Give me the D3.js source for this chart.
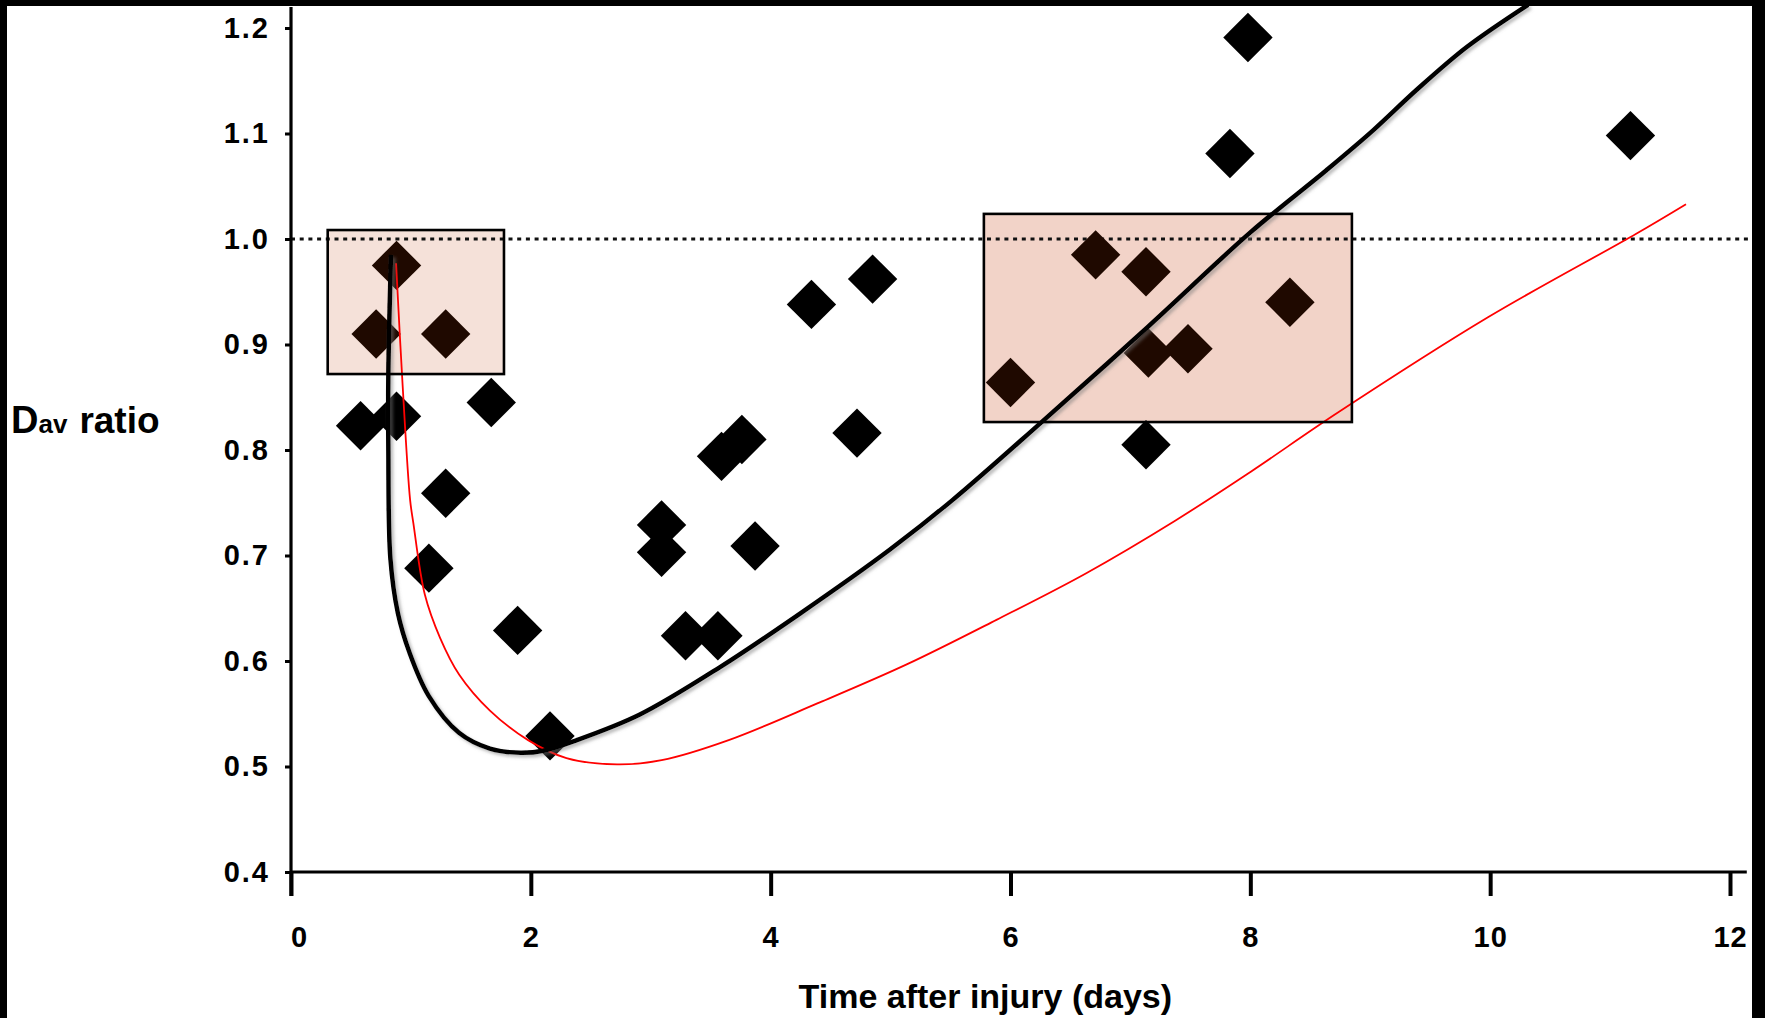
<!DOCTYPE html>
<html>
  <head>
    <script src="https://d3js.org/d3.v7.min.js"></script>
    <title>Dav ratio vs time after injury</title>
    <style>
      body { margin: 0; background: #fff; }
      svg { display: block; font-family: "Liberation Sans", Arial, sans-serif; }
    </style>
  </head>
  <body>
    <div id="container"></div>
    <script>
    // measured points (days, Dav ratio)
    const days  = [0.58, 0.71, 0.88, 0.88, 1.29, 1.67, 1.29, 1.15, 1.89, 2.16,
                   3.09, 3.09, 3.29, 3.56, 3.59, 3.76, 3.87, 4.34, 4.85, 4.72,
                   6.00, 6.71, 7.13, 7.15, 7.48, 7.13, 8.33, 7.83, 7.98, 11.17];
    const ratio = [0.823, 0.910, 0.975, 0.832, 0.910, 0.845, 0.759, 0.688, 0.629, 0.529,
                   0.729, 0.703, 0.624, 0.624, 0.794, 0.810, 0.709, 0.938, 0.962, 0.816,
                   0.864, 0.985, 0.969, 0.892, 0.896, 0.805, 0.940, 1.081, 1.191, 1.098];

    // black fitted curve
    const blackDays  = [0.834, 0.812, 0.812, 0.829, 0.892, 0.988, 1.148, 1.401, 1.659, 1.914,
                        2.105, 2.384, 2.905, 3.575, 4.245, 4.987, 5.511, 6.255, 7.148, 7.998,
                        8.632, 9.024, 9.383, 9.805, 10.316];
    const blackRatio = [0.985, 0.873, 0.800, 0.697, 0.645, 0.608, 0.567, 0.532, 0.517, 0.513,
                        0.515, 0.525, 0.549, 0.594, 0.645, 0.705, 0.752, 0.826, 0.917, 1.006,
                        1.065, 1.103, 1.141, 1.182, 1.222];

    // red fitted curve
    const redDays  = [0.876, 0.930, 0.993, 1.020, 1.116, 1.243, 1.403, 1.659, 1.977, 2.297,
                      2.719, 3.091, 3.650, 4.394, 5.139, 5.883, 6.628, 7.373, 7.998, 8.724,
                      9.985, 11.218, 11.633];
    const redRatio = [0.977, 0.863, 0.753, 0.731, 0.663, 0.622, 0.587, 0.553, 0.525, 0.508,
                      0.502, 0.506, 0.525, 0.560, 0.597, 0.639, 0.683, 0.733, 0.779, 0.835,
                      0.926, 1.005, 1.033];

    // shaded boxes
    const boxDay0   = [0.306, 5.778];
    const boxDay1   = [1.776, 8.847];
    const boxRatio0 = [0.872, 0.8265];
    const boxRatio1 = [1.0085, 1.0238];
    const boxFill   = ['#f5e1d9', '#f2d3c8'];

    const xTicks = [0, 2, 4, 6, 8, 10, 12];
    const yTicks = [0.4, 0.5, 0.6, 0.7, 0.8, 0.9, 1.0, 1.1, 1.2];
    const refRatio = 1.0;

    const w = 1765, h = 1018;

    const x = d3.scaleLinear().domain([0, 12]).range([291, 1730]);
    const y = d3.scaleLinear().domain([0.4, 1.2]).range([872, 28]);

    const svg = d3.select('#container')
      .append('svg')
      .attr('width', w)
      .attr('height', h);

    svg.append('rect').attr('width', w).attr('height', h).attr('fill', '#fff');

    const defs = svg.append('defs');
    defs.append('filter')
      .attr('id', 'shadow')
      .attr('x', '-10%').attr('y', '-10%').attr('width', '120%').attr('height', '120%')
      .append('feDropShadow')
      .attr('dx', 2.5).attr('dy', 2.5)
      .attr('stdDeviation', 1.5)
      .attr('flood-color', '#777')
      .attr('flood-opacity', 0.5);

    const boxes = boxDay0.map((d, i) => ({x0: d, x1: boxDay1[i], y0: boxRatio0[i], y1: boxRatio1[i], fill: boxFill[i]}));

    svg.selectAll('rect.box')
      .data(boxes)
      .enter()
      .append('rect')
      .attr('class', 'box')
      .attr('x', d => x(d.x0))
      .attr('y', d => y(d.y1))
      .attr('width', d => x(d.x1) - x(d.x0))
      .attr('height', d => y(d.y0) - y(d.y1))
      .attr('fill', d => d.fill);

    // dotted reference line at 1.0
    svg.append('line')
      .attr('x1', x(0)).attr('x2', x(12.17))
      .attr('y1', y(refRatio)).attr('y2', y(refRatio))
      .attr('stroke', '#111')
      .attr('stroke-width', 3.2)
      .attr('stroke-dasharray', '4,4.7');

    const inBox = (d, r) => boxes.some(b => d >= b.x0 && d <= b.x1 && r >= b.y0 && r <= b.y1);

    const diamond = d3.symbol().type(d3.symbolSquare).size(1220);
    svg.selectAll('path.pt')
      .data(days)
      .enter()
      .append('path')
      .attr('class', 'pt')
      .attr('d', diamond)
      .attr('transform', (d, i) => `translate(${x(d)},${y(ratio[i])}) rotate(45)`)
      .attr('fill', (d, i) => inBox(d, ratio[i]) ? '#1f0900' : '#000');

    const line = d3.line()
      .x(d => x(d[0]))
      .y(d => y(d[1]))
      .curve(d3.curveCatmullRom.alpha(0.5));

    svg.append('path')
      .attr('d', line(redDays.map((d, i) => [d, redRatio[i]])))
      .attr('fill', 'none')
      .attr('stroke', '#f00')
      .attr('stroke-width', 1.8);

    svg.append('path')
      .attr('d', line(blackDays.map((d, i) => [d, blackRatio[i]])))
      .attr('fill', 'none')
      .attr('stroke', '#000')
      .attr('stroke-width', 4.5)
      .attr('filter', 'url(#shadow)');

    svg.selectAll('rect.boxline')
      .data(boxes)
      .enter()
      .append('rect')
      .attr('class', 'boxline')
      .attr('x', d => x(d.x0))
      .attr('y', d => y(d.y1))
      .attr('width', d => x(d.x1) - x(d.x0))
      .attr('height', d => y(d.y0) - y(d.y1))
      .attr('fill', 'none')
      .attr('stroke', '#000')
      .attr('stroke-width', 2.6);

    // axes
    const yAxis = d3.axisLeft(y)
      .tickValues(yTicks)
      .tickFormat(d3.format('.1f'))
      .tickSize(6)
      .tickSizeOuter(0)
      .tickPadding(15);

    const gy = svg.append('g')
      .attr('transform', `translate(${x(0)},0)`)
      .call(yAxis);
    gy.select('.domain').remove();
    gy.selectAll('line').attr('stroke', '#000').attr('stroke-width', 3);
    gy.selectAll('text')
      .attr('fill', '#000')
      .style('font-size', '29px')
      .style('font-weight', 'bold')
      .style('letter-spacing', '2px');

    svg.append('line')
      .attr('x1', x(0)).attr('x2', x(0))
      .attr('y1', y(1.22)).attr('y2', y(0.4) + 24)
      .attr('stroke', '#000')
      .attr('stroke-width', 3.2);

    const xAxis = d3.axisBottom(x)
      .tickValues(xTicks)
      .tickFormat(d3.format('d'))
      .tickSize(24)
      .tickSizeOuter(0)
      .tickPadding(30);

    const gx = svg.append('g')
      .attr('transform', `translate(0,${y(0.4)})`)
      .call(xAxis);
    gx.select('.domain').remove();
    gx.selectAll('line').attr('stroke', '#000').attr('stroke-width', 4);
    gx.selectAll('text')
      .attr('fill', '#000')
      .style('font-size', '29px')
      .style('font-weight', 'bold')
      .style('letter-spacing', '1px');
    gx.selectAll('text').filter(d => d === 0).attr('dx', 8);

    svg.append('line')
      .attr('x1', x(0)).attr('x2', x(12.14))
      .attr('y1', y(0.4)).attr('y2', y(0.4))
      .attr('stroke', '#000')
      .attr('stroke-width', 3.2);

    // axis titles
    svg.append('text')
      .attr('x', (x(4.25) + x(7.33)) / 2)
      .attr('y', 1008)
      .attr('text-anchor', 'middle')
      .style('font-size', '34px')
      .style('font-weight', 'bold')
      .text('Time after injury (days)');

    const ylab = svg.append('text')
      .attr('x', 11)
      .attr('y', 433)
      .style('font-weight', 'bold');
    ylab.append('tspan').style('font-size', '38px').text('D');
    ylab.append('tspan').style('font-size', '26px').text('av');
    ylab.append('tspan').style('font-size', '37px').attr('dx', 12).text('ratio');

    // black frame edges
    svg.append('rect').attr('x', 0).attr('y', 0).attr('width', 7).attr('height', h).attr('fill', '#000');
    svg.append('rect').attr('x', 0).attr('y', 0).attr('width', w).attr('height', 6).attr('fill', '#000');
    svg.append('rect').attr('x', 1752).attr('y', 0).attr('width', w - 1752).attr('height', h).attr('fill', '#000');
    </script>
  </body>
</html>
